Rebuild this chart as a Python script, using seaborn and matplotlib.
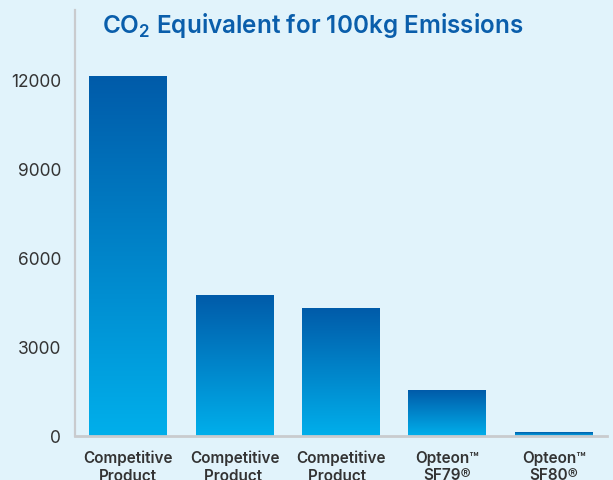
import numpy as np
import pandas as pd
import matplotlib
matplotlib.use("Agg")
import matplotlib.pyplot as plt
import seaborn as sns
from matplotlib.colors import LinearSegmentedColormap

categories = ["Competitive\nProduct", "Competitive\nProduct ", "Competitive\nProduct  ",
              "Opteon™\nSF79®", "Opteon™\nSF80®"]
values = [12100, 4720, 4310, 1520, 120]
yticks = [0, 3000, 6000, 9000, 12000]
title_main = "CO$_2$ Equivalent for 100kg Emissions"

BG = "#e1f3fb"
TOP = "#005ba9"
BOTTOM = "#00afeb"
AXIS = "#c9cbce"

sns.set_theme(style="white")
plt.rcParams["font.family"] = ["Inter", "DejaVu Sans"]
plt.rcParams["mathtext.fontset"] = "custom"
plt.rcParams["mathtext.rm"] = "Inter:semibold"
plt.rcParams["mathtext.default"] = "rm"

fig = plt.figure(figsize=(6.13, 4.81), dpi=100, facecolor=BG)
W, H = 613, 481
ax = fig.add_axes([75 / W, (H - 437) / H, (607 - 75) / W, (437 - 11) / H])
ax.set_facecolor(BG)

df = pd.DataFrame({"cat": categories, "val": values})
sns.barplot(data=df, x="cat", y="val", ax=ax, width=0.733, color=TOP, saturation=1)

ymax = 12000 * (437 - 11) / (437 - 80.7)

cmap = LinearSegmentedColormap.from_list("g", [BOTTOM, TOP])
grad = np.linspace(0, 1, 256).reshape(-1, 1)
for p in ax.patches:
    x, y = p.get_x(), p.get_y()
    w, h = p.get_width(), p.get_height()
    p.set_visible(False)
    ax.imshow(grad, extent=[x, x + w, y, y + h], origin="lower", aspect="auto",
              cmap=cmap, zorder=2, interpolation="bilinear")
ax.set_ylim(0, ymax)
ax.set_xlim(-0.5, len(categories) - 0.5)

for s in ["top", "right"]:
    ax.spines[s].set_visible(False)
ax.spines["left"].set_color(AXIS)
ax.spines["left"].set_linewidth(1.6)
ax.spines["bottom"].set_color(AXIS)
ax.spines["bottom"].set_linewidth(2)

ax.set_yticks(yticks)
ax.set_yticklabels([str(v) for v in yticks], fontsize=12.5, color="#333333")
ax.tick_params(axis="y", direction="in", length=10, width=1.6, color=AXIS, pad=10)

ax.set_xticks(np.arange(len(categories)))
ax.set_xticklabels(categories, fontsize=11, fontweight="semibold", color="#333333",
                   linespacing=1.2)
ax.tick_params(axis="x", length=0, pad=10)
ax.set_xticks(np.arange(-0.5, len(categories)), minor=True)
ax.tick_params(axis="x", which="minor", direction="in", length=8, width=1.6, color=AXIS)

ax.set_xlabel("")
ax.set_ylabel("")

fig.text(102 / W, 1 - 33 / H, title_main, fontsize=17.5, fontweight="semibold",
         color="#0a5eab", ha="left", va="baseline")

fig.savefig("out.png", dpi=100, facecolor=BG)
